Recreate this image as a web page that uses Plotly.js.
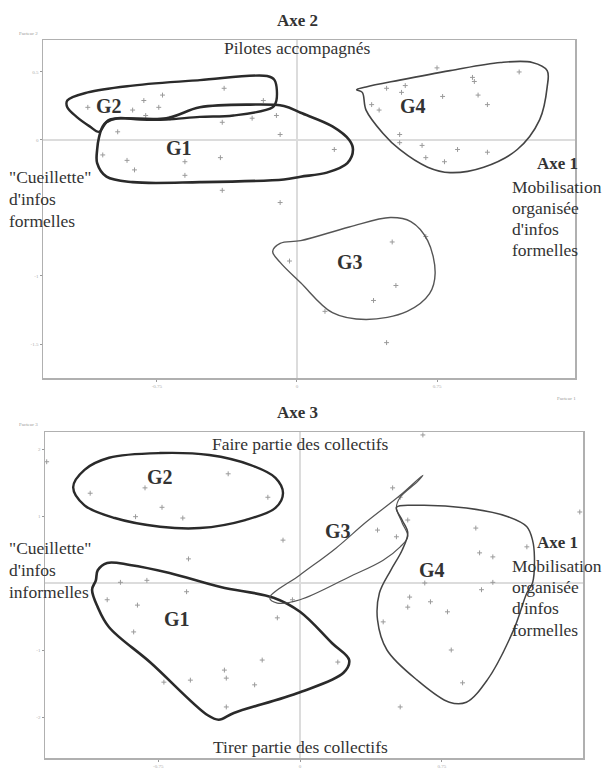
<!DOCTYPE html>
<html>
<head>
<meta charset="utf-8">
<script src="https://cdn.plot.ly/plotly-3.0.1.min.js"></script>
<style>html,body{margin:0;padding:0;background:#fff}#chart{width:602px;height:772px}</style>
</head>
<body>
<div id="chart"></div>
<script>
// ---------- Plan 1-2 (Axe 1 x Axe 2) : individual points ----------
const top_x = [-1.12,-0.82,-0.88,-0.81,-0.72,-0.74,-0.68,-0.39,-0.40,-0.18,-0.11,-0.24,-0.09,-0.96,-1.04,-0.91,-0.87,-0.60,-0.60,-0.41,-0.40,0.20,0.75,0.94,0.95,1.19,0.48,0.58,0.56,0.78,0.40,0.44,0.97,1.02,0.55,0.55,0.67,0.69,0.79,0.86,1.02,-0.09,-0.04,0.51,0.69,0.53,0.41,0.15,0.48];
const top_y = [0.24,0.29,0.22,0.18,0.33,0.24,0.16,0.38,0.13,0.29,0.18,0.16,0.04,0.06,-0.11,-0.15,-0.22,-0.16,-0.26,-0.13,-0.37,-0.07,0.53,0.46,0.43,0.50,0.38,0.40,0.35,0.32,0.26,0.22,0.33,0.26,0.04,-0.02,-0.04,-0.13,-0.16,-0.07,-0.09,-0.46,-0.89,-0.75,-0.71,-1.07,-1.18,-1.26,-1.49];

// group outlines, plan 1-2
const top_G1_x = [-1.00,-0.70,-0.52,-0.25,-0.07,0.02,0.19,0.28,0.30,0.27,0.16,0.02,-0.07,-0.52,-0.88,-1.02,-1.07,-1.07,-1.06,-1.04,-1.00];
const top_G1_y = [0.15,0.16,0.24,0.26,0.25,0.20,0.10,0.00,-0.07,-0.17,-0.24,-0.27,-0.29,-0.31,-0.31,-0.27,-0.17,-0.07,0.02,0.10,0.15];
const top_G2_x = [-1.23,-1.12,-0.88,-0.52,-0.16,-0.12,-0.11,-0.13,-0.34,-0.52,-0.70,-0.84,-0.96,-1.02,-1.06,-1.11,-1.18,-1.23,-1.23];
const top_G2_y = [0.29,0.35,0.40,0.44,0.47,0.44,0.29,0.24,0.18,0.17,0.15,0.15,0.16,0.13,0.06,0.10,0.17,0.24,0.29];
const top_G3_x = [-0.13,-0.09,0.02,0.28,0.50,0.61,0.70,0.74,0.71,0.59,0.37,0.19,0.02,-0.09,-0.13];
const top_G3_y = [-0.82,-0.76,-0.74,-0.64,-0.57,-0.60,-0.74,-0.98,-1.13,-1.26,-1.32,-1.27,-1.05,-0.90,-0.82];
const top_G4_x = [0.32,0.35,0.37,0.46,0.55,0.70,0.82,1.00,1.18,1.30,1.34,1.34,1.26,1.09,0.82,0.55,0.37,0.32];
const top_G4_y = [0.37,0.35,0.22,0.05,-0.07,-0.20,-0.24,-0.20,-0.07,0.15,0.39,0.51,0.57,0.57,0.51,0.44,0.39,0.37];

// ---------- Plan 1-3 (Axe 1 x Axe 3) : individual points ----------
const bot_x = [-1.34,-1.11,-0.82,-0.73,-0.87,-0.62,-0.38,-0.17,-0.09,-0.59,-0.95,-0.81,-1.02,-0.86,-0.60,-0.88,-0.72,-0.58,-0.40,-0.39,-0.20,-0.24,-0.39,-0.12,-0.04,0.65,0.49,0.53,0.57,0.41,0.51,0.93,0.95,1.02,1.20,1.48,0.66,1.02,0.58,0.69,0.78,0.57,0.44,0.80,0.86,0.20,0.53,0.96];
const bot_y = [1.81,1.34,1.42,1.13,0.99,0.97,1.63,1.28,0.64,0.36,0.01,0.04,-0.25,-0.33,-0.13,-0.73,-1.48,-1.45,-1.30,-1.42,-1.15,-1.52,-1.85,-0.52,-0.25,2.21,1.42,1.28,0.94,0.79,0.69,0.82,0.45,0.39,0.54,1.06,0.00,0.01,-0.21,-0.28,-0.43,-0.36,-0.58,-1.00,-1.49,-1.18,-1.85,-0.10];

// group outlines, plan 1-3
const bot_G1_x = [-1.08,-1.07,-1.02,-0.90,-0.69,-0.42,-0.14,0.00,0.17,0.26,0.23,0.00,-0.35,-0.43,-0.49,-0.79,-1.01,-1.07,-1.10,-1.08];
const bot_G1_y = [0.04,0.19,0.30,0.27,0.15,-0.06,-0.22,-0.43,-0.90,-1.15,-1.34,-1.63,-1.94,-2.04,-1.97,-1.19,-0.66,-0.36,-0.10,0.04];
const bot_G2_x = [-1.20,-1.14,-1.01,-0.74,-0.48,-0.26,-0.13,-0.09,-0.13,-0.29,-0.53,-0.74,-0.98,-1.14,-1.20];
const bot_G2_y = [1.43,1.69,1.87,1.94,1.91,1.76,1.57,1.34,1.12,0.94,0.82,0.84,0.97,1.16,1.43];
const bot_G3_x = [-0.16,0.00,0.19,0.35,0.53,0.65,0.62,0.53,0.51,0.54,0.57,0.53,0.44,0.26,0.00,-0.12,-0.16];
const bot_G3_y = [-0.22,0.12,0.52,0.91,1.31,1.61,1.51,1.28,1.13,0.90,0.69,0.54,0.34,0.09,-0.25,-0.30,-0.22];
const bot_G4_x = [0.51,0.62,0.88,1.10,1.20,1.23,1.24,1.23,1.20,1.13,0.99,0.88,0.79,0.62,0.46,0.41,0.42,0.48,0.54,0.57,0.54,0.51];
const bot_G4_y = [1.13,1.16,1.12,0.99,0.84,0.64,0.39,0.00,-0.15,-0.70,-1.45,-1.78,-1.78,-1.45,-1.00,-0.55,-0.15,0.19,0.49,0.75,0.94,1.13];

// tick labels
const top_xticks = [-0.75, 0, 0.75];
const top_yticks = [0.5, 0, -1, -1.5];
const bot_xticks = [-0.75, 0, 0.75];
const bot_yticks = [2, 1, -1, -2];

// ---------- traces ----------
const ptStyle = {mode:'markers', type:'scatter', hoverinfo:'skip', showlegend:false,
  marker:{symbol:'cross-thin-open', size:3.5, color:'#9a9a9a', line:{width:1, color:'#9a9a9a'}}};
function outline(x, y, xa, ya, w, c){
  return {type:'scatter', mode:'lines', x:x, y:y, xaxis:xa, yaxis:ya, hoverinfo:'skip', showlegend:false,
    line:{shape:'spline', smoothing:1, width:w, color:c}};
}
const traces = [
  Object.assign({x:top_x, y:top_y, xaxis:'x', yaxis:'y'}, ptStyle),
  Object.assign({x:bot_x, y:bot_y, xaxis:'x2', yaxis:'y2'}, ptStyle),
  outline(top_G1_x, top_G1_y, 'x', 'y', 2.6, '#2a2a2a'),
  outline(top_G2_x, top_G2_y, 'x', 'y', 2.4, '#2a2a2a'),
  outline(top_G3_x, top_G3_y, 'x', 'y', 1.4, '#555'),
  outline(top_G4_x, top_G4_y, 'x', 'y', 1.6, '#444'),
  outline(bot_G1_x, bot_G1_y, 'x2', 'y2', 2.6, '#2a2a2a'),
  outline(bot_G2_x, bot_G2_y, 'x2', 'y2', 2.4, '#2a2a2a'),
  outline(bot_G3_x, bot_G3_y, 'x2', 'y2', 1.2, '#555'),
  outline(bot_G4_x, bot_G4_y, 'x2', 'y2', 1.5, '#444')
];

// ---------- layout ----------
const W = 602, H = 772;
const px = v => v / W, py = v => 1 - v / H;
const serif = 'Liberation Serif, Times New Roman, serif';
function axis(domain, range, ticks, anchor){
  return {domain:domain, range:range, anchor:anchor, showgrid:false, zeroline:true, zerolinecolor:'#dcdcdc', zerolinewidth:1.2,
    showline:true, mirror:true, linecolor:'#b0b0b0', linewidth:1.5, ticks:'outside', ticklen:2, tickcolor:'#999',
    tickvals:ticks, ticktext:ticks.map(String), tickfont:{family:serif, size:5, color:'#aaa'}, fixedrange:true};
}
function txt(text, x, y, opts){
  return Object.assign({xref:'paper', yref:'paper', x:px(x), y:py(y), text:text, showarrow:false,
    xanchor:'center', yanchor:'middle', font:{family:serif, size:17.5, color:'#333'}}, opts || {});
}
const L = (t, x, y) => txt(t, x, y, {xanchor:'left'});
const A = (t, x, y) => txt('<b>'+t+'</b>', x, y, {font:{family:serif, size:17, color:'#333'}});
const G = (t, x, y) => txt('<b>'+t+'</b>', x, y, {font:{family:serif, size:20, color:'#333'}});
const tiny = (t, x, y) => txt(t, x, y, {font:{family:serif, size:5, color:'#999'}});

const annotations = [
  // top plot
  A('Axe 2', 297, 21),
  txt('Pilotes accompagnés', 297, 48),
  L('"Cueillette"', 7, 177), L("d'infos", 7, 199), L('formelles', 7, 221),
  A('Axe 1', 557, 164),
  L('Mobilisation', 510, 187), L('organisée', 510, 208), L("d'infos", 510, 229), L('formelles', 510, 250),
  G('G2', 109, 106), G('G1', 179, 148), G('G4', 413, 106), G('G3', 350, 262),
  tiny('Facteur 2', 28, 33), tiny('Facteur 1', 566, 398),
  // bottom plot
  A('Axe 3', 297, 412),
  txt('Faire partie des collectifs', 300, 444),
  L('"Cueillette"', 7, 548), L("d'infos", 7, 570), L('informelles', 7, 592),
  A('Axe 1', 557, 542),
  L('Mobilisation', 510, 566), L('organisée', 510, 587), L("d'infos", 510, 608), L('formelles', 510, 630),
  G('G2', 160, 477), G('G1', 177, 619), G('G3', 338, 531), G('G4', 432, 570),
  txt('Tirer partie des collectifs', 300, 747),
  tiny('Facteur 3', 28, 425)
];

const layout = {
  width: W, height: H, margin:{l:0, r:0, t:0, b:0}, paper_bgcolor:'#fff', plot_bgcolor:'#fff',
  showlegend:false,
  xaxis: axis([43/W, 575/W], [-1.360, 1.489], top_xticks, 'y'),
  yaxis: axis([py(378), py(40)], [-1.750, 0.735], top_yticks, 'x'),
  xaxis2: axis([45/W, 583/W], [-1.349, 1.497], bot_xticks, 'y2'),
  yaxis2: axis([py(758), py(432)], [-2.612, 2.254], bot_yticks, 'x2'),
  annotations: annotations
};

Plotly.newPlot('chart', traces, layout, {staticPlot:true, displayModeBar:false});
</script>
</body>
</html>
